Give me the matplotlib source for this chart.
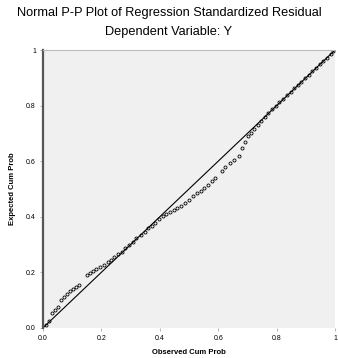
import numpy as np
from matplotlib import pyplot as plt

plt.rcParams['font.family'] = ['Liberation Sans', 'DejaVu Sans']

# observed vs expected cumulative probabilities
obs_cum = [0.010, 0.020, 0.032, 0.042, 0.052, 0.062, 0.072, 0.082, 0.092, 0.102,
           0.112, 0.122, 0.150, 0.160, 0.172, 0.182, 0.195, 0.208, 0.222, 0.232,
           0.245, 0.258, 0.270, 0.282, 0.295, 0.308, 0.320, 0.335, 0.348, 0.360,
           0.372, 0.385, 0.398, 0.410, 0.422, 0.435, 0.448, 0.460, 0.472, 0.485,
           0.500, 0.515, 0.528, 0.540, 0.552, 0.565, 0.578, 0.590, 0.612, 0.625,
           0.640, 0.655, 0.670, 0.682, 0.692, 0.702, 0.712, 0.722, 0.735, 0.748,
           0.760, 0.772, 0.785, 0.798, 0.810, 0.822, 0.835, 0.848, 0.860, 0.872,
           0.885, 0.898, 0.910, 0.922, 0.935, 0.948, 0.960, 0.972, 0.985, 0.995]
exp_cum = [0.012, 0.025, 0.055, 0.065, 0.075, 0.100, 0.112, 0.122, 0.132, 0.140,
           0.148, 0.155, 0.192, 0.198, 0.206, 0.213, 0.220, 0.228, 0.238, 0.245,
           0.255, 0.265, 0.275, 0.288, 0.298, 0.310, 0.322, 0.335, 0.345, 0.358,
           0.368, 0.378, 0.392, 0.402, 0.410, 0.418, 0.425, 0.432, 0.440, 0.450,
           0.462, 0.474, 0.485, 0.494, 0.505, 0.516, 0.528, 0.540, 0.566, 0.578,
           0.592, 0.606, 0.620, 0.648, 0.670, 0.690, 0.702, 0.715, 0.731, 0.746,
           0.759, 0.773, 0.787, 0.800, 0.812, 0.825, 0.838, 0.850, 0.862, 0.875,
           0.887, 0.900, 0.912, 0.925, 0.937, 0.950, 0.962, 0.973, 0.986, 0.996]

ticks = [0.0, 0.2, 0.4, 0.6, 0.8, 1.0]
tick_labels = ['0.0', '0.2', '0.4', '0.6', '0.8', '1']

fig = plt.figure(figsize=(3.38, 3.58), dpi=100)
ax = fig.add_axes([0.127, 0.084, 0.864, 0.776])
ax.set_facecolor('#f0f0f0')

ax.plot([0, 1], [0, 1], color='black', lw=0.8)
ax.plot(obs_cum, exp_cum, 'o', ms=2.2, mfc='none', mec='black', mew=0.6)

ax.set_xlim(0, 1)
ax.set_ylim(0, 1)
ax.set_xticks(ticks)
ax.set_xticklabels(tick_labels)
ax.set_yticks(ticks)
ax.set_yticklabels(tick_labels)
ax.tick_params(labelsize=5, length=2, width=0.5, color='#999999', pad=3)

for s in ['right', 'bottom']:
    ax.spines[s].set_visible(False)
ax.spines['top'].set_color('#bbbbbb')
ax.spines['top'].set_linewidth(0.8)
ax.spines['left'].set_color('#555555')
ax.spines['left'].set_linewidth(1.6)

ax.set_xlabel('Observed Cum Prob', fontsize=5.5, fontweight='bold', labelpad=5)
ax.set_ylabel('Expected Cum Prob', fontsize=5.5, fontweight='bold', labelpad=7)

fig.text(0.5, 0.965, 'Normal P-P Plot of Regression Standardized Residual',
         ha='center', va='center', fontsize=9.2)
fig.text(0.5, 0.912, 'Dependent Variable: Y', ha='center', va='center', fontsize=9.2)

plt.savefig('out.png', dpi=100)
